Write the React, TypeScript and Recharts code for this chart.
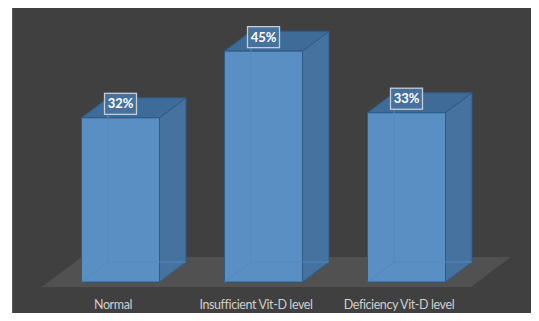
import React from "react";
import { BarChart, Bar, XAxis, YAxis, LabelList, Customized, useOffset, useChartWidth, useChartHeight } from "recharts";

const categories = ["Normal", "Insufficient Vit-D level", "Deficiency Vit-D level"];
const percents = [32, 45, 33];

const data = categories.map((name, i) => ({ name, value: percents[i] }));

// depth of the fake 3d
const DX = 26.5;
const DY = -20;
const FONT = "Lato, 'Open Sans', sans-serif";

function Floor() {
  const offset = useOffset();
  const w = useChartWidth();
  const h = useChartHeight();
  if (!offset || !w || !h) return null;
  const L = offset.left;
  const R = w - offset.right;
  const B = h - offset.bottom;
  const k = DX / -DY;
  const pts = [
    [L - 5 * k, B + 5],
    [R - 5 * k, B + 5],
    [R + 25 * k, B - 25],
    [L + 25 * k, B - 25],
  ]
    .map((p) => p.join(","))
    .join(" ");
  return <polygon points={pts} fill="#525152" />;
}

function Box3D(props: any) {
  const { x, y, width, height } = props;
  const edge = "#2d5b88";
  const side = `${x + width},${y} ${x + width + DX},${y + DY} ${x + width + DX},${y + height + DY} ${x + width},${y + height}`;
  const top = `${x},${y} ${x + DX},${y + DY} ${x + width + DX},${y + DY} ${x + width},${y}`;
  return (
    <g>
      <polygon points={side} fill="#4672a0" stroke={edge} strokeWidth={1} />
      <polygon points={top} fill="#3e6b97" stroke={edge} strokeWidth={1} />
      <rect x={x} y={y} width={width} height={height} fill="#5a8fc4" stroke={edge} strokeWidth={1} />
      {/* hidden edges showing through */}
      <g stroke="#5388bd" strokeWidth={1} fill="none">
        <line x1={x + DX} y1={y + DY} x2={x + DX} y2={y + height + DY} />
        <line x1={x + DX} y1={y + height + DY} x2={x + width + DX} y2={y + height + DY} />
        <line x1={x} y1={y + height} x2={x + DX} y2={y + height + DY} />
      </g>
    </g>
  );
}

function ValueTag(props: any) {
  const { x, y, width, value } = props;
  const cx = x + width / 2;
  const cy = y - 14;
  return (
    <g>
      <rect x={cx - 16} y={cy - 10.5} width={32} height={21} fill="#45719c" stroke="#c4ccd4" strokeWidth={1.3} />
      <text x={cx} y={cy + 4.5} textAnchor="middle" fill="#ffffff" fontSize={13} fontWeight="bold" fontFamily={FONT}>
        {value}%
      </text>
    </g>
  );
}

function CatTick(props: any) {
  const { x, y, payload } = props;
  return (
    <text
      x={x - 7}
      y={y + 27}
      textAnchor="middle"
      fill="#cfcfcf"
      fontSize={12.5}
      letterSpacing={-0.4}
      fontFamily={FONT}
    >
      {payload.value}
    </text>
  );
}

export default function App() {
  return (
    <div style={{ position: "relative", width: 539, height: 321, background: "#ffffff", margin: -8 }}>
      <div
        style={{
          position: "absolute",
          left: 12,
          top: 6,
          right: 0,
          bottom: 0,
          background: "#404040",
          borderTop: "1px solid #5a5a5a",
          borderLeft: "1px solid #5a5a5a",
        }}
      />
      <div style={{ position: "absolute", left: 0, top: 0 }}>
        <BarChart
          width={539}
          height={321}
          data={data}
          margin={{ top: 25.5, right: 61.5, bottom: 0, left: 48.5 }}
          barSize={78}
        >
          <Customized component={Floor} />
          <XAxis
            dataKey="name"
            height={39}
            axisLine={false}
            tickLine={false}
            tickSize={0}
            tickMargin={0}
            interval={0}
            tick={<CatTick />}
          />
          <YAxis hide domain={[0, 50]} />
          <Bar dataKey="value" shape={<Box3D />} isAnimationActive={false}>
            <LabelList dataKey="value" content={<ValueTag />} />
          </Bar>
        </BarChart>
      </div>
    </div>
  );
}
